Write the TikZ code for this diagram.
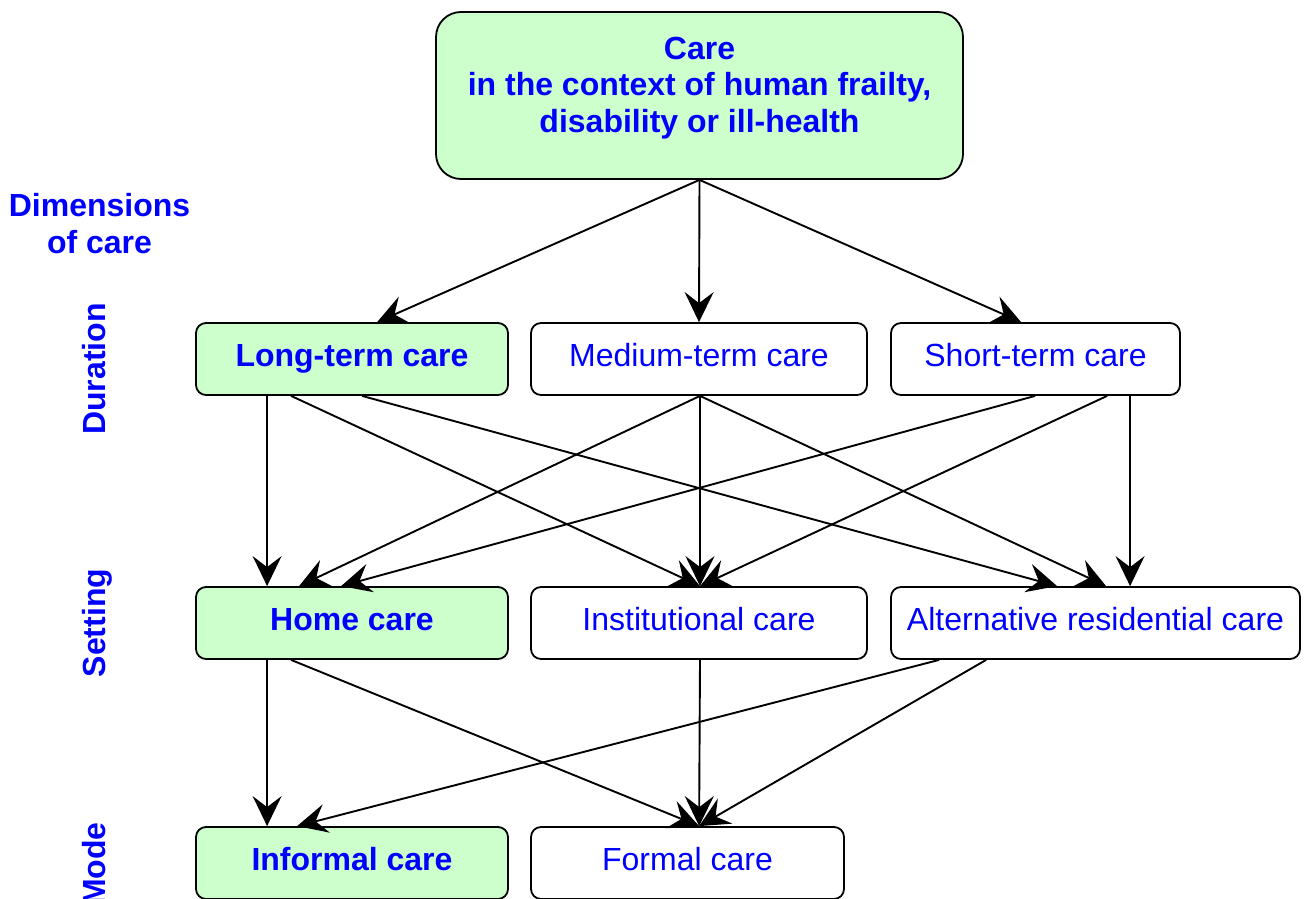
\documentclass[tikz,border=0pt]{standalone}
\usepackage{fontspec}
\setmainfont{Liberation Sans}
\usetikzlibrary{arrows.meta}
\definecolor{boxgreen}{HTML}{CCFFCC}
\definecolor{txtblue}{HTML}{0000FF}
\begin{document}
\begin{tikzpicture}[x=1pt,y=-1pt,
  box/.style={draw=black, line width=1.8pt, rounded corners=10pt,
    minimum height=72pt, inner sep=0pt, text height=23pt, text depth=8pt,
    font=\fontsize{32}{38}\selectfont, text=txtblue},
  keybox/.style={box, fill=boxgreen, font=\fontsize{32}{38}\selectfont\bfseries},
  dimlabel/.style={text=txtblue, font=\fontsize{32}{37}\selectfont\bfseries, inner sep=0pt},
  arr/.style={line width=1.9pt, -{Stealth[length=30pt,width=29pt,inset=11pt]}}]
\useasboundingbox (0,0) rectangle (1307,899);
\clip (0,0) rectangle (1307,899);

% root concept
\node[draw=black, line width=1.8pt, rounded corners=25pt, fill=boxgreen,
  minimum width=527pt, minimum height=167pt, inner sep=0pt] (care) at (699.5,95.5) {};
\node[dimlabel, align=center, anchor=north, font=\fontsize{32}{36.5}\selectfont\bfseries]
  (caretext) at (699.5,36.5) {Care\\in the context of human frailty,\\disability or ill-health};

% dimension labels
\node[dimlabel, align=center, anchor=north] (dims) at (99.5,193) {Dimensions\\of care};
\node[dimlabel, rotate=90, anchor=base] (ldur) at (105,369) {Duration};
\node[dimlabel, rotate=90, anchor=base] (lset) at (105,623) {Setting};
\node[dimlabel, rotate=90, anchor=base] (lmode) at (105,864) {Mode};

% duration
\node[keybox, minimum width=312pt] (lt) at (352,359) {Long-term care};
\node[box, minimum width=336pt] (mt) at (699,359) {Medium-term care};
\node[box, minimum width=289pt] (st) at (1035.5,359) {Short-term care};

% setting
\node[keybox, minimum width=312pt] (hc) at (352,623) {Home care};
\node[box, minimum width=336pt] (ic) at (699,623) {Institutional care};
\node[box, minimum width=409pt] (ar) at (1095.5,623) {Alternative residential care};

% mode
\node[keybox, minimum width=312pt] (inf) at (352,863) {Informal care};
\node[box, minimum width=313pt] (fc) at (687.5,863) {Formal care};

% root to duration
\draw[arr] (care.south) -- ([xshift=182pt]lt.north west);
\draw[arr] (care.south) -- (mt.north);
\draw[arr] (care.south) -- ([xshift=131pt]st.north west);

% duration to setting
\draw[arr] ([xshift=72pt]lt.south west) -- ([xshift=72pt]hc.north west);
\draw[arr] ([xshift=96pt]lt.south west) -- ([xshift=1pt]ic.north);
\draw[arr] ([xshift=167pt]lt.south west) -- ([xshift=167pt]ar.north west);
\draw[arr] ([xshift=1pt]mt.south) -- ([xshift=104pt]hc.north west);
\draw[arr] ([xshift=1pt]mt.south) -- ([xshift=1pt]ic.north);
\draw[arr] ([xshift=1pt]mt.south) -- ([xshift=216pt]ar.north west);
\draw[arr] ([xshift=145pt]st.south west) -- ([xshift=146pt]hc.north west);
\draw[arr] ([xshift=217pt]st.south west) -- ([xshift=1pt]ic.north);
\draw[arr] ([xshift=240pt]st.south west) -- ([xshift=240pt]ar.north west);

% setting to mode
\draw[arr] ([xshift=72pt]hc.south west) -- ([xshift=72pt]inf.north west);
\draw[arr] ([xshift=96pt]hc.south west) -- ([xshift=169pt]fc.north west);
\draw[arr] ([xshift=1pt]ic.south) -- ([xshift=169pt]fc.north west);
\draw[arr] ([xshift=49pt]ar.south west) -- ([xshift=102pt]inf.north west);
\draw[arr] ([xshift=96pt]ar.south west) -- ([xshift=169pt]fc.north west);
\end{tikzpicture}
\end{document}
